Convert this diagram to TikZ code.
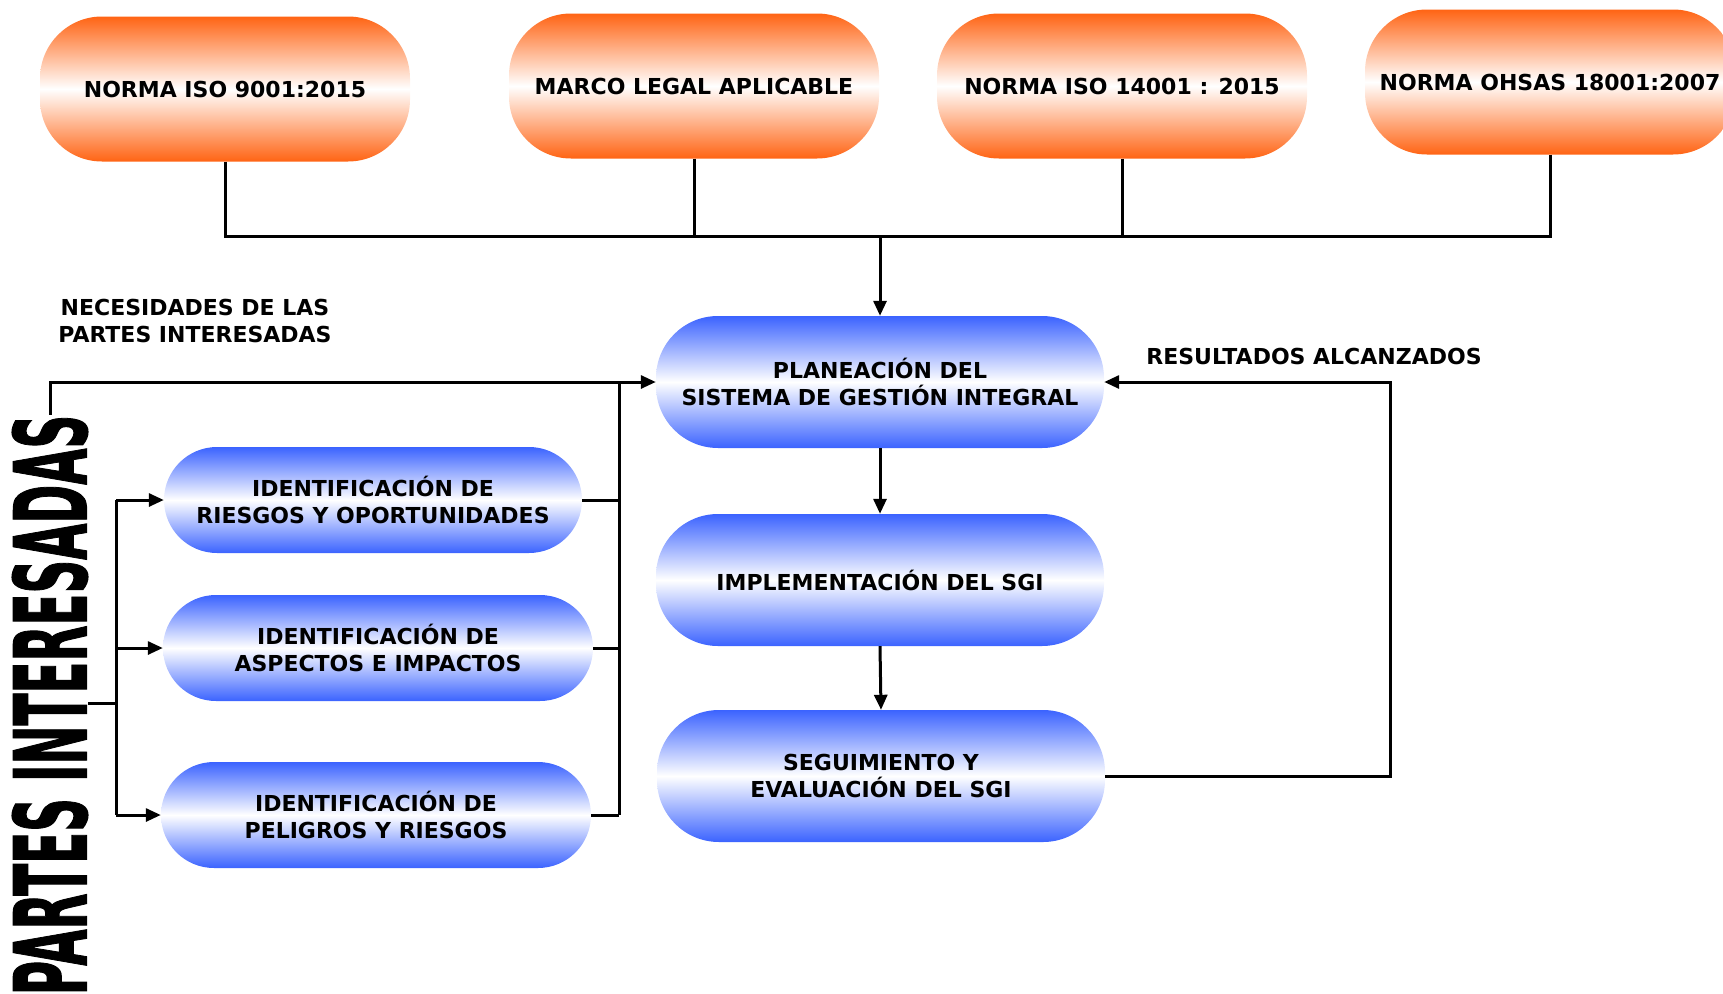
\documentclass[tikz,border=0pt]{standalone}
\usepackage{fontspec}
\usepackage{graphicx}
\setmainfont{DejaVu Sans}
\newfontfamily\condfont[BoldFeatures={FakeBold=1.5}]{DejaVu Sans Condensed}
\usetikzlibrary{arrows.meta}

\definecolor{normaorange}{RGB}{255,100,20}
\definecolor{sgiblue}{RGB}{59,99,255}

\begin{document}
\begin{tikzpicture}[x=1pt,y=-1pt,
    stadium/.style={rounded corners=#1, inner sep=0pt, align=center,
        font=\bfseries\fontsize{22}{26.5}\selectfont},
    normabox/.style={stadium=62pt, minimum width=370pt, minimum height=145pt,
        top color=normaorange, bottom color=normaorange, middle color=white},
    sgibox/.style={stadium=62pt, minimum width=448pt, minimum height=132pt,
        top color=sgiblue, bottom color=sgiblue, middle color=white},
    idbox/.style={stadium=53pt, minimum width=#1, minimum height=106pt,
        top color=sgiblue, bottom color=sgiblue, middle color=white},
    lbl/.style={align=center, inner sep=0pt, font=\bfseries\fontsize{22}{26.5}\selectfont},
    conn/.style={line width=3pt},
    arrow/.style={conn, -{Triangle[length=15pt,width=13pt]}}]
    \useasboundingbox (0,0) rectangle (1723,993);
    \clip (0,0) rectangle (1723,993);

    % normas
    \node[normabox] (iso9) at (225,89) {NORMA ISO 9001:2015};
    \node[normabox] (legal) at (694,86) {MARCO LEGAL APLICABLE};
    \node[normabox] (iso14) at (1122,86) {NORMA ISO 14001 : 2015};
    \node[normabox] (ohsas) at (1550,82) {NORMA OHSAS 18001:2007};

    % ciclo del SGI
    \node[sgibox] (plan) at (880,382) {PLANEACIÓN DEL\\SISTEMA DE GESTIÓN INTEGRAL};
    \node[sgibox] (impl) at (880,580) {IMPLEMENTACIÓN DEL SGI};
    \node[sgibox] (seg) at (881,776) {SEGUIMIENTO Y\\EVALUACIÓN DEL SGI};

    % identificaciones
    \node[idbox=418pt] (riesgos) at (373,500) {IDENTIFICACIÓN DE\\RIESGOS Y OPORTUNIDADES};
    \node[idbox=430pt] (aspectos) at (378,648) {IDENTIFICACIÓN DE\\ASPECTOS E IMPACTOS};
    \node[idbox=430pt] (peligros) at (376,815) {IDENTIFICACIÓN DE\\PELIGROS Y RIESGOS};

    \node[rotate=90, inner sep=0pt] (partes) at (50,705)
        {\scalebox{0.52}[1]{\condfont\bfseries\fontsize{100}{100}\selectfont PARTES INTERESADAS}};

    \node[lbl] (necesidades) at (195,321) {NECESIDADES DE LAS\\PARTES INTERESADAS};
    \node[lbl] (resultados) at (1314,356) {RESULTADOS ALCANZADOS};

    % conectores
    \coordinate (join) at (880,236);
    \coordinate (lbus) at (116,703);
    \coordinate (rbus) at (619,382);
    \coordinate (fb) at (1390,776);

    \foreach \n in {iso9,legal,iso14,ohsas}
        \draw[conn] (\n.south) |- (join);
    \draw[arrow] (join) -- (plan.north);

    \draw[arrow] (plan.south) -- (impl.north);
    \draw[arrow] (impl.south) -- (seg.north);
    \draw[arrow] (seg.east) -- (fb) |- (plan.east);

    \draw[conn] (partes.south |- lbus) -- (lbus);
    \draw[conn] (riesgos.west -| lbus) -- (peligros.west -| lbus);
    \foreach \n in {riesgos,aspectos,peligros}
        \draw[arrow] (\n.west -| lbus) -- (\n.west);

    \foreach \n in {riesgos,aspectos,peligros}
        \draw[conn] (\n.east) -- (\n.east -| rbus);
    \draw[conn] (peligros.east -| rbus) -- (rbus);
    \draw[arrow] (partes.east) |- (plan.west);
\end{tikzpicture}
\end{document}
